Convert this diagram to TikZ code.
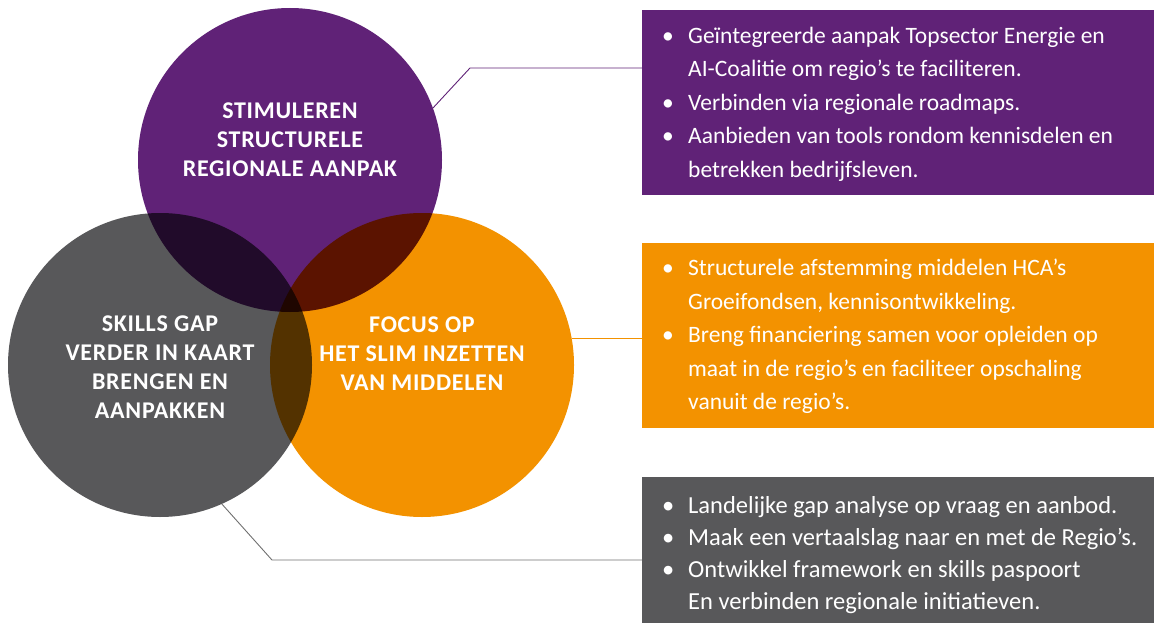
\documentclass[tikz,border=0pt]{standalone}
\usepackage{fontspec}
\setmainfont{Carlito}
\usetikzlibrary{positioning,calc}
\pgfdeclarelayer{bg}
\pgfsetlayers{bg,main}
\definecolor{paars}{RGB}{96,34,119}
\definecolor{oranje}{RGB}{243,146,0}
\definecolor{grijs}{RGB}{88,88,90}
\definecolor{lijn}{RGB}{112,112,112}
\newcommand{\bol}{\makebox[26pt][l]{\textbullet}}
\newcommand{\inspring}{\hspace*{26pt}}

\begin{document}
\begin{tikzpicture}[x=1pt,y=-1pt,
    cirkel/.style={circle,minimum size=304pt,inner sep=0pt},
    kop/.style={text=white,align=center,font=\fontsize{24}{29}\selectfont\bfseries\addfontfeatures{LetterSpace=3}},
    blok/.style={minimum width=512pt,minimum height=185pt,inner sep=0pt,anchor=north west},
    punten/.style={text=white,align=left,anchor=west,inner sep=0pt,font=\fontsize{23.5}{33.5}\selectfont}]

    \useasboundingbox (0,0) rectangle (1154,623);

    % de drie cirkels, overlap door vermenigvuldigen
    \begin{scope}[blend group=multiply]
        \node [cirkel,fill=paars] (stim) at (290,160) {};
        \node [cirkel,fill=grijs] (skills) at (160,365) {};
        \node [cirkel,fill=oranje] (focus) at (422,365) {};
    \end{scope}

    \node [kop] (stimtxt) at ([yshift=20pt]stim.center) {STIMULEREN\\STRUCTURELE\\REGIONALE AANPAK};
    \node [kop] (skillstxt) at ([yshift=-2pt]skills.center) {SKILLS GAP\\VERDER IN KAART\\BRENGEN EN\\AANPAKKEN};
    \node [kop] (focustxt) at ([yshift=11pt]focus.center) {FOCUS OP\\HET SLIM INZETTEN\\VAN MIDDELEN};

    % blokken rechts
    \node [blok,fill=paars] (stimbox) at (642,10) {};
    \node [blok,fill=oranje] (focusbox) at (642,243) {};
    \node [blok,fill=grijs,minimum height=146pt] (skillsbox) at (642,477) {};

    \node [punten] (stimlist) at ([xshift=20pt,yshift=-1.5pt]stimbox.west) {\bol Geïntegreerde aanpak Topsector Energie en\\
        \inspring AI-Coalitie om regio’s te faciliteren.\\
        \bol Verbinden via regionale roadmaps.\\
        \bol Aanbieden van tools rondom kennisdelen en\\
        \inspring betrekken bedrijfsleven.};
    \node [punten] (focuslist) at ([xshift=20pt,yshift=-1pt]focusbox.west) {\bol Structurele afstemming middelen HCA’s\\
        \inspring Groeifondsen, kennisontwikkeling.\\
        \bol Breng financiering samen voor opleiden op\\
        \inspring maat in de regio’s en faciliteer opschaling\\
        \inspring vanuit de regio’s.};
    \node [punten,font=\fontsize{24.5}{32}\selectfont] (skillslist) at ([xshift=20pt,yshift=-4.5pt]skillsbox.west) {\bol Landelijke gap analyse op vraag en aanbod.\\
        \bol Maak een vertaalslag naar en met de Regio’s.\\
        \bol Ontwikkel framework en skills paspoort\\
        \inspring En verbinden regionale initiatieven.};

    \coordinate (stimknik) at (470,68);
    \coordinate (skillsknik) at (272,560);
    \begin{pgfonlayer}{bg}    % verbindingslijnen achter de vlakken
        \draw [paars,line width=0.9pt] (stim.20.7) -- (stimknik) -- (stimknik -| stimbox.west);
        \draw [oranje,line width=0.9pt] (focus.10.6) -- (focus.10.6 -| focusbox.west);
        \draw [lijn,line width=0.9pt] (skills.-66.8) -- (skillsknik) -- (skillsknik -| skillsbox.west);
    \end{pgfonlayer}
\end{tikzpicture}
\end{document}
